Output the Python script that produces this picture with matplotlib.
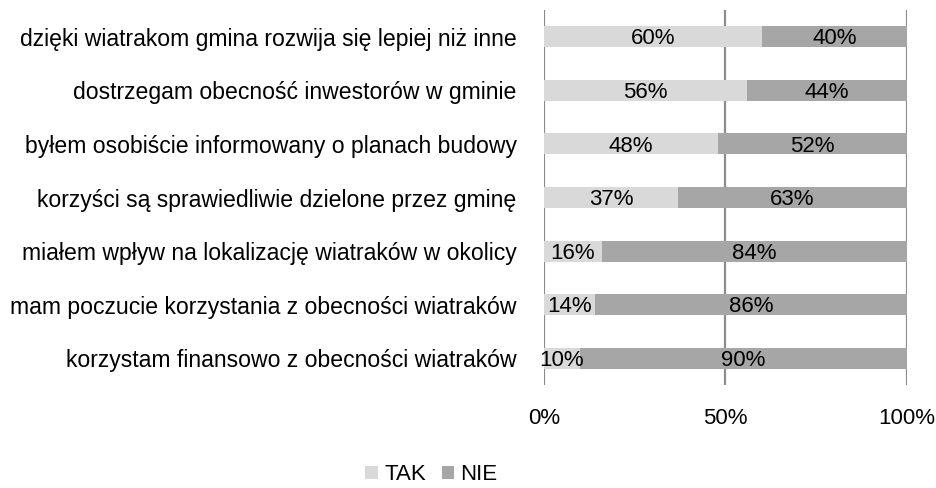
import matplotlib
matplotlib.use('Agg')
import matplotlib.pyplot as plt
from matplotlib.ticker import FixedLocator

plt.rcParams['font.family'] = ['Liberation Sans', 'DejaVu Sans']

categories = [
    'dzięki wiatrakom gmina rozwija się lepiej niż inne',
    'dostrzegam obecność inwestorów w gminie',
    'byłem osobiście informowany o planach budowy',
    'korzyści są sprawiedliwie dzielone przez gminę',
    'miałem wpływ na lokalizację wiatraków w okolicy',
    'mam poczucie korzystania z obecności wiatraków',
    'korzystam finansowo z obecności wiatraków',
]
tak = [60, 56, 48, 37, 16, 14, 10]
nie = [40, 44, 52, 63, 84, 86, 90]
x_ticks = [0, 50, 100]
x_labels = ['0%', '50%', '100%']

TAK_COLOR = '#d9d9d9'
NIE_COLOR = '#a6a6a6'

fig = plt.figure(figsize=(9.36, 4.88), dpi=100)
ax = fig.add_axes([0.581, 0.211, 0.388, 0.7685])

ypos = list(range(len(categories)))
h = 0.39
b1 = ax.barh(ypos, tak, height=h, color=TAK_COLOR, label='TAK', zorder=2)
b2 = ax.barh(ypos, nie, left=tak, height=h, color=NIE_COLOR, label='NIE', zorder=2)

for y, t, n in zip(ypos, tak, nie):
    ax.text(t / 2, y + 0.04, f'{t}%', ha='center', va='center', fontsize=16, zorder=3)
    ax.text(t + n / 2, y + 0.04, f'{n}%', ha='center', va='center', fontsize=16, zorder=3)

ax.set_xlim(0, 100)
ax.set_ylim(len(categories) - 0.5, -0.5)
ax.set_yticks(ypos)
ax.set_yticklabels(categories, fontsize=16.6)
ax.xaxis.set_major_locator(FixedLocator(x_ticks))
ax.set_xticklabels(x_labels, fontsize=16)
ax.tick_params(axis='y', length=0, pad=19.5)
ax.tick_params(axis='x', length=0, pad=16.5)
for s in ax.spines.values():
    s.set_visible(False)
for xv in x_ticks:
    ax.axvline(xv, color='#8c8c8c', linewidth=1.6, zorder=1)

fig.legend(handles=[b1, b2], labels=['TAK', 'NIE'], loc='center',
           bbox_to_anchor=(0.461, 0.027), ncol=2, frameon=False,
           fontsize=16, handlelength=0.55, handleheight=0.55,
           handletextpad=0.3, columnspacing=0.7)

fig.savefig('out.png', dpi=100)
